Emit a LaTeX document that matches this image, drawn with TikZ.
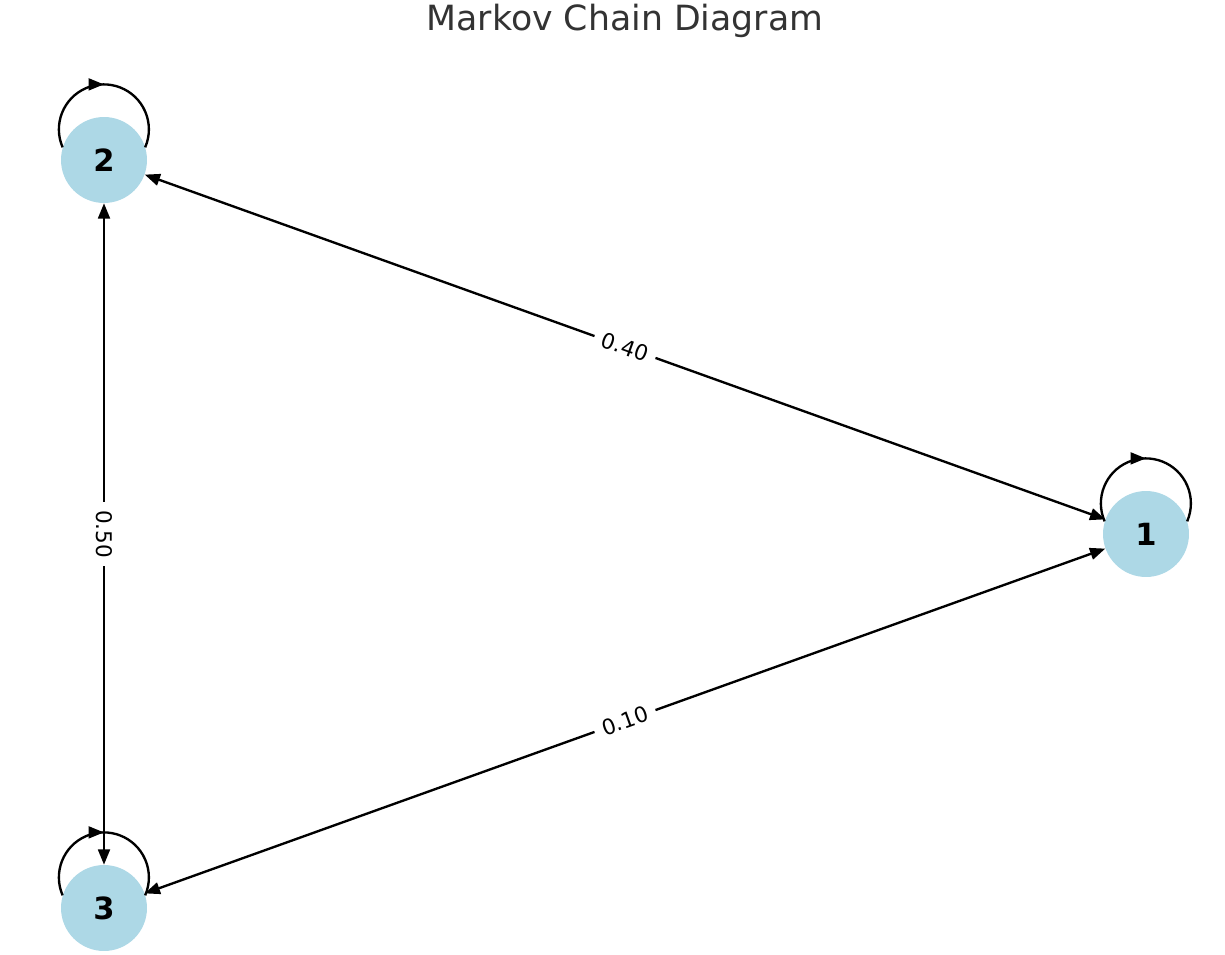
\documentclass[tikz,border=0pt]{standalone}
\usepackage{fontspec}
\setmainfont{DejaVu Sans}
\usetikzlibrary{arrows.meta,decorations.markings}
\definecolor{statefill}{RGB}{173,216,230}
\definecolor{titlegray}{RGB}{51,51,51}

\begin{document}
\begin{tikzpicture}[x=0.72pt,y=0.72pt,
	state/.style={circle,fill=statefill,inner sep=0pt,minimum size=61.9pt,font=\fontsize{22}{26}\selectfont\bfseries},
	trans/.style={line width=1.7pt,{Triangle[length=11pt,width=8.5pt]}-{Triangle[length=11pt,width=8.5pt]}},
	prob/.style={fill=white,inner xsep=6pt,inner ysep=3pt,sloped,midway,font=\fontsize{15.5}{18}\selectfont},
	selfloop/.style={line width=1.7pt,postaction={decorate},decoration={markings,mark=at position 0.5 with {\arrow{Triangle[length=11pt,width=8.5pt]}}}}]
	\useasboundingbox (0,0) rectangle (1225,-955);
	\node [font=\fontsize{25}{30}\selectfont,text=titlegray,anchor=base] (title) at (625,-31) {Markov Chain Diagram};
	\node [state] (n1) at (1146,-534) {1};
	\node [state] (n2) at (104,-160) {2};
	\node [state] (n3) at (104,-908) {3};
	\draw [selfloop] (n1.163.7) arc [start angle=203.5, end angle=-23.5, radius=32.4pt];
	\draw [selfloop] (n2.163.7) arc [start angle=203.5, end angle=-23.5, radius=32.4pt];
	\draw [selfloop] (n3.163.7) arc [start angle=203.5, end angle=-23.5, radius=32.4pt];
	\draw [trans] (n2) -- node [prob] {0.40} (n1);
	\draw [trans] (n3) -- node [prob] {0.10} (n1);
	\draw [trans] (n2) -- node [prob] {0.50} (n3);
\end{tikzpicture}
\end{document}
